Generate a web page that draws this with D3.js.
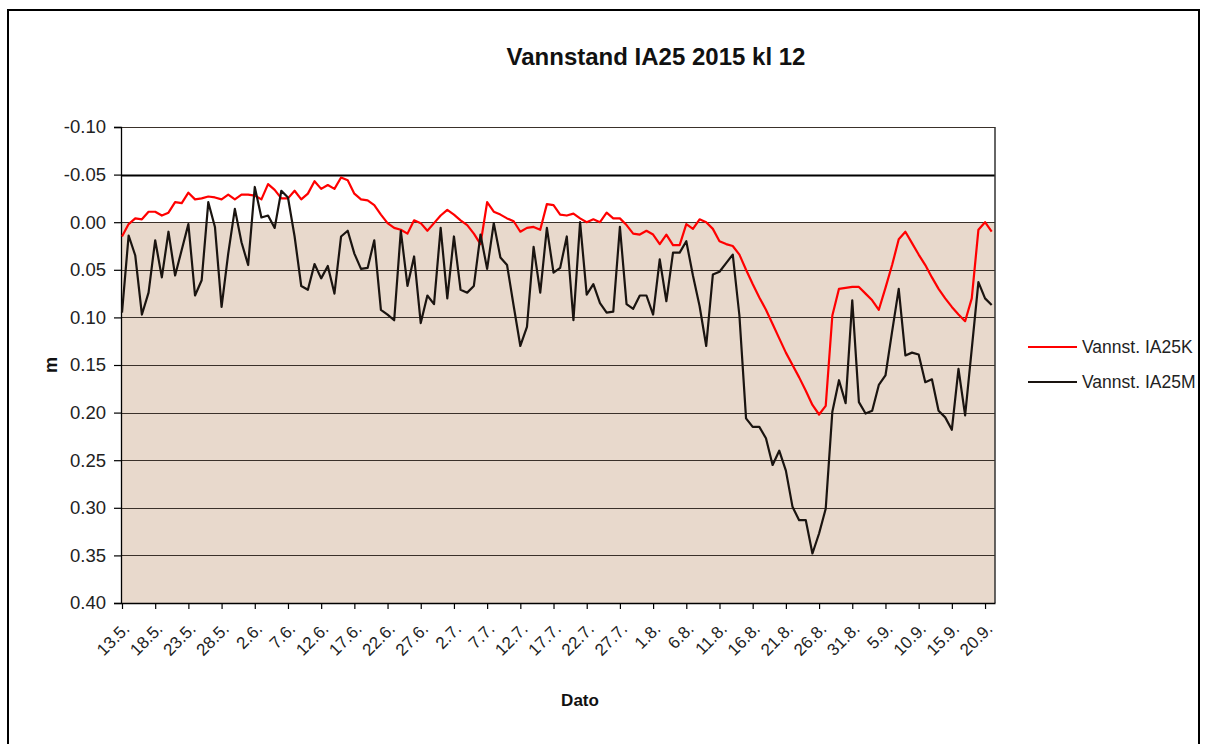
<!DOCTYPE html>
<html>
<head>
<meta charset="utf-8">
<script src="https://cdn.jsdelivr.net/npm/d3@7"></script>
<style>
  html, body { margin: 0; padding: 0; background: #fff; }
  svg { display: block; font-family: "Liberation Sans", Arial, sans-serif; }
</style>
</head>
<body>
<svg id="chart" width="1207" height="744"></svg>
<script>
// ---- data ----
const startDate = new Date(2015, 4, 13);   // 13.5.2015, one value per day
const seriesNames = ["Vannst. IA25K", "Vannst. IA25M"];
const seriesColors = ["#ff0000", "#1a1410"];

const ia25K = [
  0.015, 0.002, -0.004, -0.003, -0.011, -0.011, -0.007, -0.010, -0.021, -0.020,
  -0.031, -0.024, -0.025, -0.027, -0.026, -0.024, -0.029, -0.024, -0.029, -0.029,
  -0.028, -0.024, -0.040, -0.034, -0.025, -0.025, -0.033, -0.024, -0.030, -0.043,
  -0.035, -0.039, -0.035, -0.047, -0.044, -0.030, -0.024, -0.023, -0.018, -0.008,
  0.001, 0.006, 0.008, 0.012, -0.002, 0.001, 0.009, 0.001, -0.007, -0.013,
  -0.008, -0.002, 0.003, 0.012, 0.023, -0.021, -0.011, -0.008, -0.004, -0.001,
  0.010, 0.006, 0.005, 0.008, -0.019, -0.018, -0.008, -0.007, -0.009, -0.004,
  0.000, -0.003, 0.000, -0.010, -0.004, -0.004, 0.003, 0.012, 0.013, 0.009,
  0.013, 0.023, 0.013, 0.024, 0.024, 0.002, 0.007, -0.003, 0.000, 0.007,
  0.020, 0.023, 0.025, 0.034, 0.050, 0.065, 0.079, 0.092, 0.107, 0.122,
  0.137, 0.150, 0.163, 0.177, 0.192, 0.202, 0.193, 0.098, 0.070, 0.069,
  0.068, 0.068, 0.075, 0.082, 0.092, 0.069, 0.045, 0.018, 0.010, 0.022,
  0.034, 0.045, 0.058, 0.070, 0.080, 0.089, 0.097, 0.104, 0.080, 0.008,
  0.000, 0.010
];

const ia25M = [
  0.095, 0.014, 0.035, 0.097, 0.074, 0.019, 0.058, 0.010, 0.056, 0.029,
  0.002, 0.077, 0.061, -0.021, 0.005, 0.089, 0.033, -0.014, 0.021, 0.045,
  -0.037, -0.005, -0.007, 0.006, -0.033, -0.026, 0.015, 0.067, 0.071, 0.044,
  0.059, 0.046, 0.075, 0.015, 0.009, 0.033, 0.049, 0.048, 0.019, 0.092,
  0.097, 0.103, 0.009, 0.067, 0.036, 0.106, 0.077, 0.086, 0.006, 0.080,
  0.015, 0.071, 0.074, 0.067, 0.013, 0.049, 0.001, 0.037, 0.045, 0.088,
  0.130, 0.110, 0.026, 0.074, 0.006, 0.053, 0.048, 0.015, 0.103, 0.000,
  0.076, 0.065, 0.085, 0.095, 0.094, 0.005, 0.086, 0.091, 0.077, 0.077,
  0.097, 0.039, 0.083, 0.032, 0.032, 0.020, 0.056, 0.088, 0.130, 0.055,
  0.052, 0.043, 0.034, 0.098, 0.206, 0.215, 0.215, 0.227, 0.255, 0.240,
  0.261, 0.299, 0.313, 0.313, 0.348, 0.327, 0.301, 0.199, 0.166, 0.190,
  0.082, 0.189, 0.201, 0.198, 0.171, 0.161, 0.115, 0.070, 0.140, 0.137,
  0.139, 0.168, 0.165, 0.198, 0.205, 0.218, 0.154, 0.203, 0.133, 0.063,
  0.080, 0.087
];

const xTickLabels = ["13.5.","18.5.","23.5.","28.5.","2.6.","7.6.","12.6.","17.6.","22.6.","27.6.",
  "2.7.","7.7.","12.7.","17.7.","22.7.","27.7.","1.8.","6.8.","11.8.","16.8.","21.8.","26.8.",
  "31.8.","5.9.","10.9.","15.9.","20.9."];
const yTicks = [-0.10, -0.05, 0.00, 0.05, 0.10, 0.15, 0.20, 0.25, 0.30, 0.35, 0.40];
const yTickLabels = ["-0.10","-0.05","0.00","0.05","0.10","0.15","0.20","0.25","0.30","0.35","0.40"];
const refLevel = -0.05;

// ---- layout ----
const svg = d3.select("#chart");
const L = 121, R = 995, T = 127, B = 603;
const day = 864e5;
const dates = ia25K.map((_, i) => d3.timeDay.offset(startDate, i));
const x = d3.scaleTime()
  .domain([new Date(+startDate - 0.15 * day), new Date(+dates[dates.length - 1] + 0.5 * day)])
  .range([L, R]);
const y = d3.scaleLinear().domain([-0.10, 0.40]).range([T, B]);

svg.append("rect").attr("width", 1207).attr("height", 744).attr("fill", "#fff");
// outer frame
svg.append("rect").attr("x", 8).attr("y", 10).attr("width", 1191).attr("height", 760)
  .attr("fill", "none").attr("stroke", "#000").attr("stroke-width", 2);

// tan area below 0
svg.append("rect").attr("x", L).attr("y", y(0)).attr("width", R - L).attr("height", y(0.40) - y(0))
  .attr("fill", "#e8d9cc");

// gridlines
svg.append("g").selectAll("line").data(yTicks).join("line")
  .attr("x1", L).attr("x2", R)
  .attr("y1", d => Math.round(y(d)) + 0.5).attr("y2", d => Math.round(y(d)) + 0.5)
  .attr("stroke", d => d === refLevel ? "#000" : "#3a312a")
  .attr("stroke-width", d => d === refLevel ? 2.2 : 1.1);

// right border
svg.append("line").attr("x1", R).attr("x2", R).attr("y1", T).attr("y2", B)
  .attr("stroke", "#333").attr("stroke-width", 1.5);

// y axis
const yAxis = d3.axisLeft(y).tickValues(yTicks)
  .tickFormat((d, i) => yTickLabels[i]).tickSize(7).tickPadding(8);
const gy = svg.append("g").attr("transform", `translate(${L},0)`).call(yAxis);
gy.select(".domain").attr("stroke", "#000").attr("stroke-width", 1.3);
gy.selectAll(".tick line").attr("stroke", "#000").attr("stroke-width", 1.2);
gy.selectAll(".tick text").attr("font-size", 18.5).attr("fill", "#222")
  .attr("font-family", "Liberation Sans, Arial, sans-serif");

// x axis
const tickDates = xTickLabels.map((_, i) => d3.timeDay.offset(startDate, i * 5));
const xAxis = d3.axisBottom(x).tickValues(tickDates)
  .tickFormat((d, i) => xTickLabels[i]).tickSize(6).tickSizeOuter(0);
const gx = svg.append("g").attr("transform", `translate(0,${B})`).call(xAxis);
gx.select(".domain").attr("stroke", "#000").attr("stroke-width", 1.3);
gx.selectAll(".tick line").attr("stroke", "#000").attr("stroke-width", 1.2);
gx.selectAll(".tick text")
  .attr("font-size", 17).attr("fill", "#222")
  .attr("font-family", "Liberation Sans, Arial, sans-serif")
  .attr("text-anchor", "end")
  .attr("y", 0).attr("dy", 0)
  .attr("transform", "translate(8,27) rotate(-45)");

// lines
const line = d3.line().x((d, i) => x(dates[i])).y(d => y(d));
[ia25K, ia25M].forEach((s, k) => {
  svg.append("path").datum(s)
    .attr("fill", "none").attr("stroke", seriesColors[k])
    .attr("stroke-width", 2.2).attr("stroke-linejoin", "round")
    .attr("d", line);
});

// title
svg.append("text").attr("x", 656).attr("y", 65).attr("text-anchor", "middle")
  .attr("font-size", 24).attr("font-weight", "bold").attr("fill", "#111")
  .text("Vannstand IA25 2015 kl 12");

// axis titles
svg.append("text").attr("transform", "translate(57,365) rotate(-90)")
  .attr("text-anchor", "middle").attr("font-size", 18).attr("font-weight", "bold")
  .attr("fill", "#111").text("m");
svg.append("text").attr("x", 580).attr("y", 706).attr("text-anchor", "middle")
  .attr("font-size", 17).attr("font-weight", "bold").attr("fill", "#111").text("Dato");

// legend
const lg = svg.append("g");
seriesNames.forEach((n, k) => {
  const ly = 347 + k * 35;
  lg.append("line").attr("x1", 1028).attr("x2", 1077).attr("y1", ly).attr("y2", ly)
    .attr("stroke", seriesColors[k]).attr("stroke-width", 2.2);
  lg.append("text").attr("x", 1082).attr("y", ly + 6).attr("font-size", 17.5)
    .attr("fill", "#222").text(n);
});
</script>
</body>
</html>
